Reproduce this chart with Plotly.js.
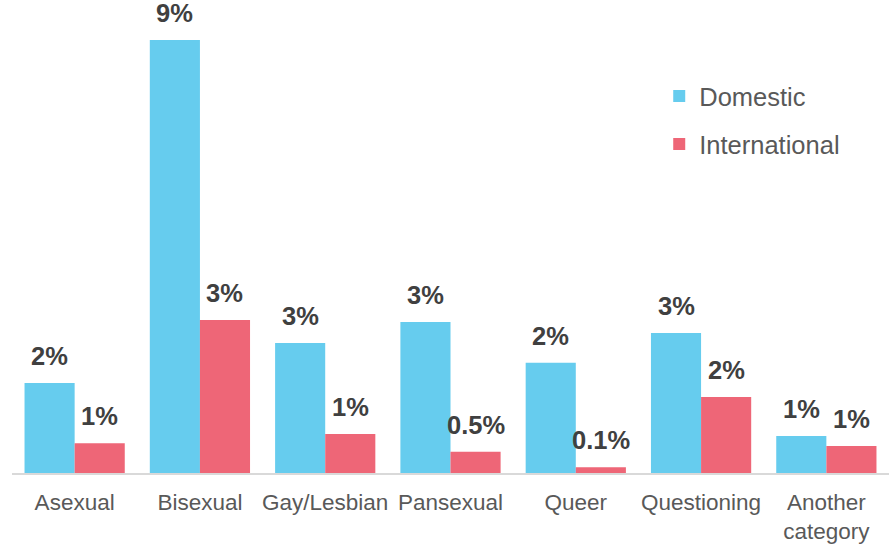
<!DOCTYPE html>
<html>
<head>
<meta charset="utf-8">
<script src="https://cdn.plot.ly/plotly-3.0.1.min.js"></script>
<style>html,body{margin:0;padding:0;background:#fff;}#chart{width:895px;height:544px;}</style>
</head>
<body>
<div id="chart"></div>
<script>
const categories = ["Asexual", "Bisexual", "Gay/Lesbian", "Pansexual", "Queer", "Questioning", "Another<br>category"];
const domestic = [1.87, 9.0, 2.70, 3.14, 2.29, 2.91, 0.77];
const international = [0.62, 3.18, 0.81, 0.44, 0.12, 1.58, 0.56];
const domesticLabels = ["2%", "9%", "3%", "3%", "2%", "3%", "1%"];
const internationalLabels = ["1%", "3%", "1%", "0.5%", "0.1%", "2%", "1%"];

const FONT = "Liberation Sans, Arial, sans-serif";
const traces = [
  {type: "bar", name: "Domestic", x: categories, y: domestic, marker: {color: "#66CCEE"}, legendgroup: "a", hoverinfo: "skip"},
  {type: "bar", name: "International", x: categories, y: international, marker: {color: "#EE6677"}, legendgroup: "b", hoverinfo: "skip"}
];

const annotations = [];
function addLabels(vals, labels, shift) {
  vals.forEach((v, i) => {
    annotations.push({x: categories[i], y: v, xref: "x", yref: "y", text: labels[i], showarrow: false,
      xshift: shift, yshift: 11, yanchor: "bottom", xanchor: "center",
      font: {family: FONT, size: 25.5, color: "#404040", weight: "bold"}});
  });
}
addLabels(domestic, domesticLabels, -25);
addLabels(international, internationalLabels, 25);

const layout = {
  width: 895, height: 544,
  margin: {l: 12, r: 6, t: 0, b: 71},
  paper_bgcolor: "#fff", plot_bgcolor: "#fff",
  barmode: "group", bargap: 0.2, bargroupgap: 0,
  font: {family: FONT, color: "#595959"},
  xaxis: {type: "category", showline: true, linecolor: "#D9D9D9", linewidth: 2, ticks: "", showgrid: false,
    ticklabelstandoff: 8,
    tickfont: {family: FONT, size: 22.5, color: "#595959"}, fixedrange: true},
  yaxis: {range: [0, 9.0 * 473 / 433], visible: false, showgrid: false, zeroline: false, fixedrange: true},
  showlegend: true,
  legend: {x: 0.738, y: 0.846, xanchor: "left", yanchor: "top", traceorder: "grouped", tracegroupgap: 12,
    font: {family: FONT, size: 25.5, color: "#595959"}, bgcolor: "rgba(0,0,0,0)"},
  annotations: annotations
};
Plotly.newPlot("chart", traces, layout, {displayModeBar: false, staticPlot: true});
</script>
</body>
</html>
